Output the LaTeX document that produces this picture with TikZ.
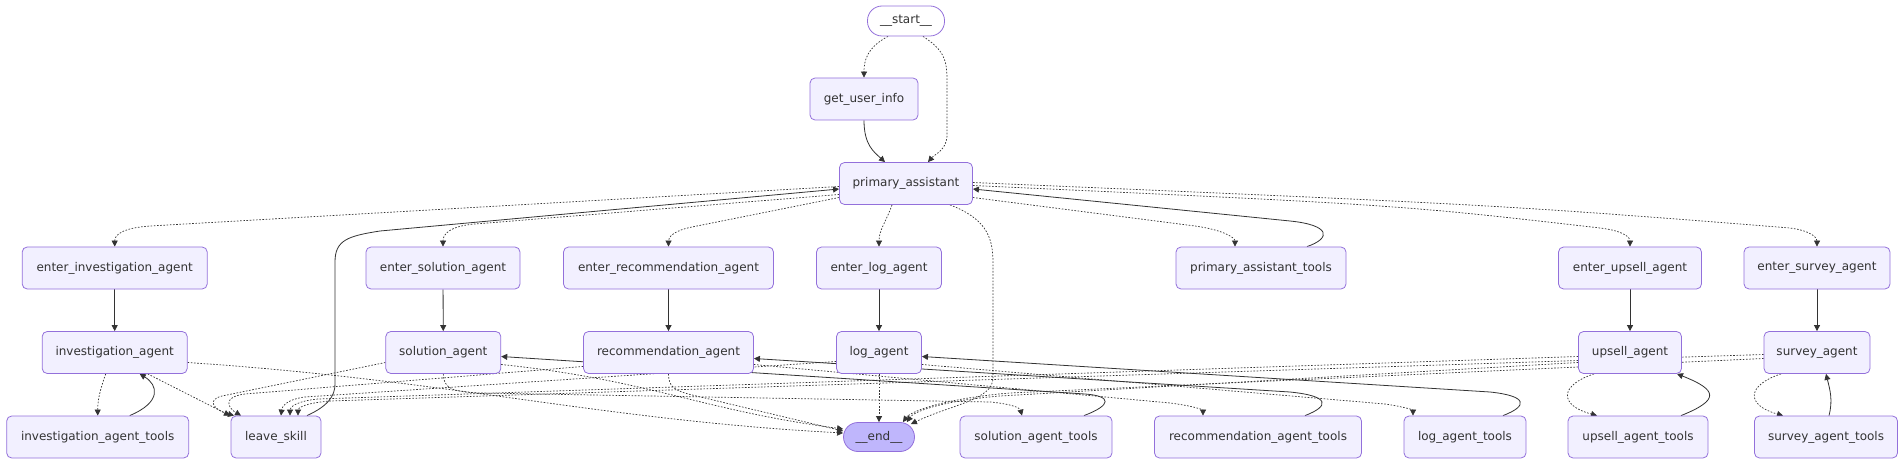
\documentclass[tikz,border=0pt]{standalone}
\usepackage{fontspec}
\setmainfont{DejaVu Sans}
\usetikzlibrary{arrows.meta,backgrounds}
\definecolor{nodefill}{HTML}{F2F0FF}
\definecolor{nodeline}{HTML}{9370DB}
\definecolor{endfill}{HTML}{BFB6FC}
\definecolor{edgecol}{HTML}{333333}
\definecolor{txtcol}{HTML}{333333}

\begin{document}
\begin{tikzpicture}[x=1pt, y=-1pt,
  nd/.style={draw=nodeline, fill=nodefill, line width=0.8pt, rounded corners=5pt,
    minimum height=42pt, inner sep=0pt, text=txtcol, font=\fontsize{12}{14}\selectfont},
  term/.style={nd, minimum height=30pt, rounded corners=14.5pt},
  flow/.style={draw=edgecol, line width=0.8pt, -{Triangle[length=6pt,width=6pt]}},
  cond/.style={flow, line width=0.7pt, dash pattern=on 1.6pt off 1.6pt},
]
  \useasboundingbox (0,0) rectangle (1904,465);

  % Top: entry point and primary assistant
  \node[term, fill=white, minimum width=77pt] (st) at (906,21) {\_\_start\_\_};
  \node[nd, minimum width=108pt] (gui) at (864,99) {get\_user\_info};
  \node[nd, minimum width=133pt] (pa) at (906,183.5) {primary\_assistant};

  % Row 2: entry nodes
  \node[nd, minimum width=185pt] (eia) at (114.7,268) {enter\_investigation\_agent};
  \node[nd, minimum width=154pt] (esa) at (443,268) {enter\_solution\_agent};
  \node[nd, minimum width=210pt] (era) at (668.5,268) {enter\_recommendation\_agent};
  \node[nd, minimum width=125pt] (ela) at (879,268) {enter\_log\_agent};
  \node[nd, minimum width=170pt] (pat) at (1261,268) {primary\_assistant\_tools};
  \node[nd, minimum width=143pt] (eua) at (1630,268) {enter\_upsell\_agent};
  \node[nd, minimum width=146pt] (esva) at (1817,268) {enter\_survey\_agent};

  % Row 3: agents
  \node[nd, minimum width=145pt] (ia) at (114.7,352.5) {investigation\_agent};
  \node[nd, minimum width=115pt] (sa) at (443.3,352.5) {solution\_agent};
  \node[nd, minimum width=170pt] (ra) at (668.5,352.5) {recommendation\_agent};
  \node[nd, minimum width=85pt] (la) at (879,352.5) {log\_agent};
  \node[nd, minimum width=103pt] (ua) at (1630,352.5) {upsell\_agent};
  \node[nd, minimum width=106pt] (sva) at (1817,352.5) {survey\_agent};

  % Row 4: tools, leave_skill and end
  \node[nd, minimum width=182pt] (iat) at (97.7,437) {investigation\_agent\_tools};
  \node[nd, minimum width=90pt] (ls) at (276,437) {leave\_skill};
  \node[term, fill=endfill, minimum width=71pt, minimum height=29pt] (en) at (879,437) {\_\_end\_\_};
  \node[nd, minimum width=152pt] (sat) at (1036,437) {solution\_agent\_tools};
  \node[nd, minimum width=207pt] (rat) at (1258,437) {recommendation\_agent\_tools};
  \node[nd, minimum width=122pt] (lat) at (1465,437) {log\_agent\_tools};
  \node[nd, minimum width=140pt] (uat) at (1638,437) {upsell\_agent\_tools};
  \node[nd, minimum width=143pt] (svat) at (1826,437) {survey\_agent\_tools};

  \begin{scope}[on background layer]
    % start and user info
    \draw[cond] ([xshift=-18pt]st.south) .. controls (866,48) and (864,62) .. (gui.north);
    \draw[cond] ([xshift=17pt]st.south) .. controls (944,50) and (947,60) .. (947,80) -- (947,135)
      .. controls (947,150) and (935,154) .. ([xshift=22pt]pa.north);
    \draw[flow] (gui.south) .. controls (864,145) and (874,152) .. ([xshift=-21pt]pa.north);

    % primary assistant routing
    \draw[cond] ([yshift=-3pt]pa.west) -- (150,226) .. controls (122,228) and (114.7,235) .. (eia.north);
    \draw[cond] ([yshift=-11pt]pa.west) -- (475,224) .. controls (450,226) and (443,234) .. (esa.north);
    \draw[cond] ([yshift=-14pt]pa.west) -- (692,227) .. controls (672,231) and (668.5,238) .. (era.north);
    \draw[cond] ([xshift=-14pt]pa.south) .. controls (886,222) and (879,230) .. (ela.north);
    \draw[cond] ([xshift=44pt]pa.south) .. controls (984,218) and (993,235) .. (993,262) -- (993,378)
      .. controls (993,400) and (950,405) .. ([xshift=-4pt,yshift=-2pt]en.north east);
    \draw[cond] ([yshift=-14pt]pa.east) -- (1195,226) .. controls (1224,230) and (1235,238) .. ([xshift=-26pt]pat.north);
    \draw[cond] ([yshift=-2pt]pa.east) .. controls (1400,205) .. (1600,228)
      .. controls (1625,231) and (1630,238) .. (eua.north);
    \draw[cond] ([yshift=1pt]pa.east) .. controls (1500,205) .. (1790,228)
      .. controls (1812,231) and (1817,238) .. (esva.north);
    \draw[flow] ([xshift=46pt]pat.north) .. controls (1332,238) and (1330,225) .. (1290,221) -- ([yshift=-5.5pt]pa.east);
    \draw[flow] ([xshift=31pt]ls.north) .. controls (328,406) and (335,396) .. (335,384) -- (335,262)
      .. controls (335,240) and (348,236) .. (380,231) -- ([yshift=-5.5pt]pa.west);

    % enter -> agent
    \foreach \a/\b in {eia/ia, esa/sa, era/ra, ela/la, eua/ua, esva/sva}
      \draw[flow] (\a) -- (\b);

    % investigation agent
    \draw[cond] ([xshift=-9pt]ia.south) .. controls (100,390) and (97.7,400) .. (iat.north);
    \draw[flow] ([xshift=32pt]iat.north) .. controls (162,402) and (158,385) .. ([xshift=25pt]ia.south);
    \draw[cond] ([xshift=33pt]ia.south) -- ([xshift=-46pt]ls.north);
    \draw[cond] ([yshift=-10pt]ia.east) .. controls (450,380) and (600,420) .. ([yshift=4pt]en.west);

    % solution agent
    \draw[cond] ([yshift=-10pt]sa.west) -- (222,396) .. controls (206,400) and (214,410) .. ([xshift=-42pt]ls.north);
    \draw[cond] (sa.south) .. controls (443.3,388) and (452,392) .. (480,393) -- (990,402)
      .. controls (1012,404) and (1020,408) .. ([xshift=-14pt]sat.north);
    \draw[flow] ([xshift=48pt]sat.north) .. controls (1112,405) and (1112,396) .. (1085,394) -- ([yshift=-4pt]sa.east);
    \draw[cond] ([yshift=-12pt]sa.east) .. controls (650,380) and (700,410) .. ([yshift=8pt]en.west);

    % recommendation agent
    \draw[cond] ([yshift=-14pt]ra.west) -- (245,394) .. controls (222,397) and (228,408) .. ([xshift=-35pt]ls.north);
    \draw[cond] ([yshift=-12pt]ra.east) -- (1170,403) .. controls (1194,406) and (1203,410) .. ([xshift=-55pt]rat.north);
    \draw[flow] ([xshift=47pt]rat.north) .. controls (1330,406) and (1330,396) .. (1290,392) -- ([yshift=-6pt]ra.east);
    \draw[cond] (ra.south) .. controls (668.5,386) and (674,390) .. (688,394) -- ([yshift=6pt]en.west);

    % log agent
    \draw[cond] ([yshift=-9pt]la.west) -- (305,397) .. controls (288,399) and (282,406) .. ([xshift=5pt]ls.north);
    \draw[cond] ([yshift=-12pt]la.east) -- (1385,404) .. controls (1405,407) and (1413,410) .. ([xshift=-52pt]lat.north);
    \draw[flow] ([xshift=38pt]lat.north) .. controls (1528,406) and (1528,396) .. (1490,392) -- ([yshift=-4pt]la.east);
    \draw[cond] (la) -- (en);

    % upsell agent
    \draw[cond] ([yshift=-4pt]ua.west) -- (318,399) .. controls (297,401) and (290,407) .. ([xshift=14pt]ls.north);
    \draw[cond] ([yshift=-10pt]ua.west) -- (1000,396) .. controls (950,400) and (915,410) .. ([xshift=-8pt]en.north east);
    \draw[cond] ([xshift=-36pt]ua.south) .. controls (1560,385) and (1558,405) .. ([xshift=-41pt]uat.north);
    \draw[flow] ([xshift=43pt]uat.north) .. controls (1720,400) and (1718,390) .. ([xshift=47pt]ua.south);

    % survey agent
    \draw[cond] ([yshift=-2pt]sva.west) -- (330,401) .. controls (305,403) and (298,408) .. ([xshift=22pt]ls.north);
    \draw[cond] ([yshift=-6pt]sva.west) -- (1010,393) .. controls (950,398) and (912,410) .. ([xshift=-12pt]en.north east);
    \draw[cond] ([xshift=-36pt]sva.south) .. controls (1747,385) and (1745,405) .. ([xshift=-43pt]svat.north);
    \draw[flow] ([xshift=3pt]svat.north) .. controls (1833,400) and (1830,390) .. ([xshift=9pt]sva.south);
  \end{scope}
\end{tikzpicture}
\end{document}
